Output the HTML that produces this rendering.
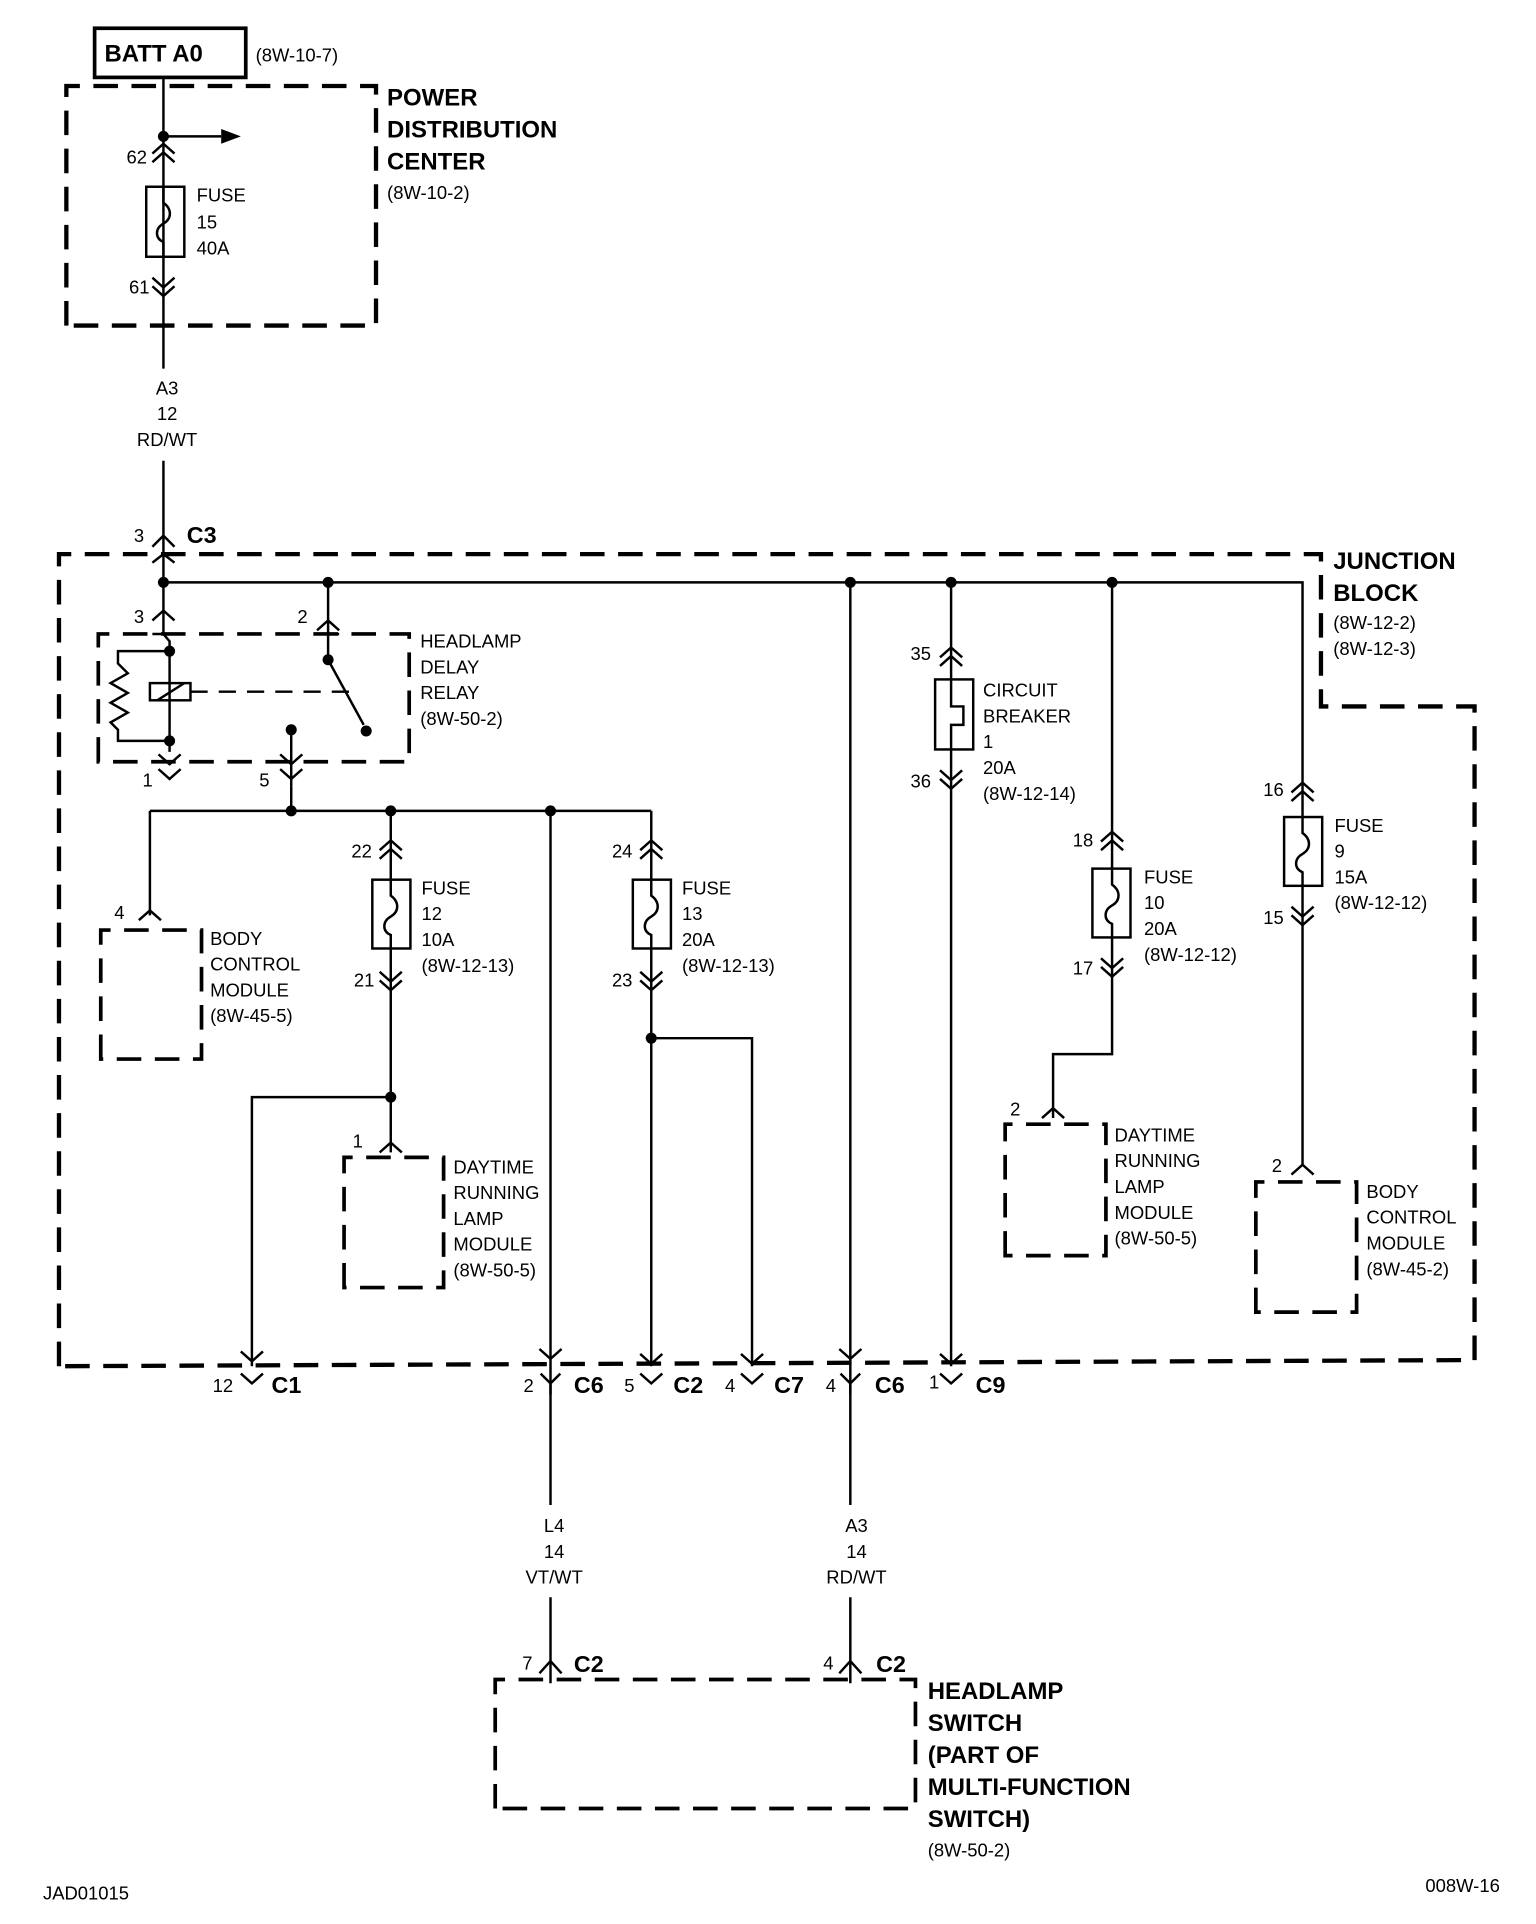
<!DOCTYPE html>
<html><head><meta charset="utf-8"><style>
html,body{margin:0;padding:0;background:#fff;}
svg{display:block;}
text{font-family:"Liberation Sans",sans-serif;font-size:15px;fill:#000;}
.b{font-weight:bold;font-size:19.5px;}
.c{font-weight:bold;font-size:19px;}
.m{text-anchor:middle;}
</style></head><body>
<svg width="1536" height="1924" viewBox="0 0 1250 1566" preserveAspectRatio="none" xmlns="http://www.w3.org/2000/svg">
<g fill="none" stroke="#000" stroke-width="2">
<rect x="77" y="23" width="123" height="40" stroke-width="3"/>
<g stroke-width="3.5" stroke-dasharray="20,11">
<path d="M54,265 V70 H306 V265 Z"/>
<path d="M48,1112 V451 H1075 V575 H1200 V1107 Z"/>
<path d="M80,620 V516 H333 V620 Z" stroke-width="3"/>
<path d="M82,862 V757 H164 V862 Z" stroke-width="3"/>
<path d="M280,1048 V942 H361 V1048 Z" stroke-width="3"/>
<path d="M818,1022 V915 H900 V1022 Z" stroke-width="3"/>
<path d="M1022,1068 V962 H1104 V1068 Z" stroke-width="3"/>
<path d="M403,1472 V1367 H745 V1472 Z" stroke-width="3"/>
</g>
<path d="M133,63 V300 M133,375 V516"/>
<path d="M133,111 H180"/>
<path d="M124,125 L133,117 L142,125 M124,132 L133,124 L142,132"/>
<rect x="119" y="152" width="31" height="57"/>
<path d="M133,152 V165 C140,170 140,178 133,182 C126,186 126,194 133,197 V209"/>
<path d="M124,226 L133,234 L142,226 M124,233 L133,241 L142,233"/>
<path d="M124,445 L133,436 L142,445 M124,458 L133,451 L142,458"/>
<path d="M133,474 H1060 V948"/>
<path d="M267,474 V516 M267,505 L258,513 M267,505 L276,513"/>
<path d="M124,505 L133,497 L142,505 M124,516 H142"/>
<path d="M259,516 H276"/>
<path d="M133,516 L138,522 V612"/>
<path d="M138,530 H96 V540 L104,548 L90,556 L104,564 L90,572 L104,580 L90,588 L96,594 V603 H138"/>
<rect x="122" y="556" width="33" height="14"/>
<path d="M128,570 L150,556"/>
<path d="M155,563 H285" stroke-dasharray="14,9"/>
<path d="M267,516 V537 L296,590"/>
<path d="M237,594 V640"/>
<path d="M129,626 L138,634 L147,626 M129,614 L138,622 L147,614"/>
<path d="M228,626 L237,634 L246,626 M228,614 L237,622 L246,614"/>
<path d="M237,640 V660 M122,660 H530 M122,660 V745"/>
<path d="M113,749 L122,741 L131,749"/>
<path d="M318,660 V938"/>
<path d="M309,692 L318,684 L327,692 M309,699 L318,691 L327,699"/>
<rect x="303" y="716" width="31" height="56" fill="#fff"/>
<path d="M318,716 V729 C325,734 325,742 318,746 C311,750 311,758 318,761 V772"/>
<path d="M309,791 L318,799 L327,791 M309,798 L318,806 L327,798"/>
<path d="M318,893 H205 V1112 M196,1100 L205,1108 L214,1100"/>
<path d="M309,938 L318,930 L327,938"/>
<path d="M448,660 V1225 M448,1300 V1370"/>
<path d="M439,1098 L448,1106 L457,1098"/>
<path d="M439,1362 L448,1352 L457,1362"/>
<path d="M530,660 V1112"/>
<path d="M521,692 L530,684 L539,692 M521,699 L530,691 L539,699"/>
<rect x="515" y="716" width="31" height="56" fill="#fff"/>
<path d="M530,716 V729 C537,734 537,742 530,746 C523,750 523,758 530,761 V772"/>
<path d="M521,791 L530,799 L539,791 M521,798 L530,806 L539,798"/>
<path d="M530,845 H612 V1112 M521,1102 L530,1110 L539,1102 M603,1102 L612,1110 L621,1102"/>
<path d="M692,474 V1225 M692,1300 V1370"/>
<path d="M683,1098 L692,1106 L701,1098"/>
<path d="M683,1362 L692,1352 L701,1362"/>
<path d="M774,474 V1112"/>
<path d="M765,535 L774,527 L783,535 M765,542 L774,534 L783,542"/>
<rect x="761" y="553" width="31" height="57" fill="#fff"/>
<path d="M774,553 V575 H784 V590 H774 V610"/>
<path d="M765,627 L774,635 L783,627 M765,634 L774,642 L783,634"/>
<path d="M765,1102 L774,1110 L783,1102"/>
<path d="M905,474 V858 H857 V910"/>
<path d="M896,685 L905,677 L914,685 M896,692 L905,684 L914,692"/>
<rect x="889" y="707" width="31" height="56" fill="#fff"/>
<path d="M905,707 V720 C912,725 912,733 905,737 C898,741 898,749 905,752 V763"/>
<path d="M896,780 L905,788 L914,780 M896,787 L905,795 L914,787"/>
<path d="M848,910 L857,902 L866,910"/>
<path d="M1051,645 L1060,637 L1069,645 M1051,652 L1060,644 L1069,652"/>
<rect x="1045" y="665" width="31" height="56" fill="#fff"/>
<path d="M1060,665 V678 C1067,683 1067,691 1060,695 C1053,699 1053,707 1060,710 V721"/>
<path d="M1051,738 L1060,746 L1069,738 M1051,745 L1060,753 L1069,745"/>
<path d="M1051,956 L1060,948 L1069,956"/>
<path d="M196,1118 L205,1126 L214,1118"/>
<path d="M440,1118 L448,1126 L456,1118 M448,1126 V1135"/>
<path d="M521,1118 L530,1126 L539,1118"/>
<path d="M603,1118 L612,1126 L621,1118"/>
<path d="M684,1118 L692,1126 L700,1118 M692,1126 V1135"/>
<path d="M765,1118 L774,1126 L783,1118"/>
</g>
<g fill="#000">
<circle cx="133" cy="111" r="4.5"/>
<path d="M180,105 L196,111 L180,117 Z"/>
<circle cx="133" cy="474" r="4.5"/><circle cx="267" cy="474" r="4.5"/>
<circle cx="692" cy="474" r="4.5"/><circle cx="774" cy="474" r="4.5"/><circle cx="905" cy="474" r="4.5"/>
<circle cx="138" cy="530" r="4.5"/><circle cx="138" cy="603" r="4.5"/>
<circle cx="267" cy="537" r="4.5"/><circle cx="298" cy="595" r="4.5"/><circle cx="237" cy="594" r="4.5"/>
<circle cx="237" cy="660" r="4.5"/><circle cx="318" cy="660" r="4.5"/><circle cx="448" cy="660" r="4.5"/>
<circle cx="318" cy="893" r="4.5"/><circle cx="530" cy="845" r="4.5"/>
</g>
<text class="b" x="85" y="50">BATT A0</text>
<text x="208" y="50">(8W-10-7)</text>
<text class="b" x="315" y="86">POWER</text>
<text class="b" x="315" y="112">DISTRIBUTION</text>
<text class="b" x="315" y="138">CENTER</text>
<text x="315" y="162">(8W-10-2)</text>
<text x="103" y="133">62</text>
<text x="160" y="164">FUSE</text><text x="160" y="186">15</text><text x="160" y="207">40A</text>
<text x="105" y="239">61</text>
<text class="m" x="136" y="321">A3</text><text class="m" x="136" y="342">12</text><text class="m" x="136" y="363">RD/WT</text>
<text x="109" y="441">3</text><text class="c" x="152" y="442">C3</text>
<text class="b" x="1085" y="463">JUNCTION</text>
<text class="b" x="1085" y="489">BLOCK</text>
<text x="1085" y="512">(8W-12-2)</text><text x="1085" y="533">(8W-12-3)</text>
<text x="109" y="507">3</text><text x="242" y="507">2</text>
<text x="342" y="527">HEADLAMP</text><text x="342" y="548">DELAY</text><text x="342" y="569">RELAY</text><text x="342" y="590">(8W-50-2)</text>
<text x="116" y="640">1</text><text x="211" y="640">5</text>
<text x="93" y="748">4</text>
<text x="171" y="769">BODY</text><text x="171" y="790">CONTROL</text><text x="171" y="811">MODULE</text><text x="171" y="832">(8W-45-5)</text>
<text x="286" y="698">22</text><text x="288" y="803">21</text>
<text x="343" y="728">FUSE</text><text x="343" y="749">12</text><text x="343" y="770">10A</text><text x="343" y="791">(8W-12-13)</text>
<text x="498" y="698">24</text><text x="498" y="803">23</text>
<text x="555" y="728">FUSE</text><text x="555" y="749">13</text><text x="555" y="770">20A</text><text x="555" y="791">(8W-12-13)</text>
<text x="287" y="934">1</text>
<text x="369" y="955">DAYTIME</text><text x="369" y="976">RUNNING</text><text x="369" y="997">LAMP</text><text x="369" y="1018">MODULE</text><text x="369" y="1039">(8W-50-5)</text>
<text x="741" y="537">35</text><text x="741" y="641">36</text>
<text x="800" y="567">CIRCUIT</text><text x="800" y="588">BREAKER</text><text x="800" y="609">1</text><text x="800" y="630">20A</text><text x="800" y="651">(8W-12-14)</text>
<text x="873" y="689">18</text><text x="873" y="793">17</text>
<text x="931" y="719">FUSE</text><text x="931" y="740">10</text><text x="931" y="761">20A</text><text x="931" y="782">(8W-12-12)</text>
<text x="822" y="908">2</text>
<text x="907" y="929">DAYTIME</text><text x="907" y="950">RUNNING</text><text x="907" y="971">LAMP</text><text x="907" y="992">MODULE</text><text x="907" y="1013">(8W-50-5)</text>
<text x="1028" y="648">16</text><text x="1028" y="752">15</text>
<text x="1086" y="677">FUSE</text><text x="1086" y="698">9</text><text x="1086" y="719">15A</text><text x="1086" y="740">(8W-12-12)</text>
<text x="1035" y="954">2</text>
<text x="1112" y="975">BODY</text><text x="1112" y="996">CONTROL</text><text x="1112" y="1017">MODULE</text><text x="1112" y="1038">(8W-45-2)</text>
<text x="173" y="1133">12</text><text class="c" x="221" y="1134">C1</text>
<text x="426" y="1133">2</text><text class="c" x="467" y="1134">C6</text>
<text x="508" y="1133">5</text><text class="c" x="548" y="1134">C2</text>
<text x="590" y="1133">4</text><text class="c" x="630" y="1134">C7</text>
<text x="672" y="1133">4</text><text class="c" x="712" y="1134">C6</text>
<text x="756" y="1130">1</text><text class="c" x="794" y="1134">C9</text>
<text class="m" x="451" y="1247">L4</text><text class="m" x="451" y="1268">14</text><text class="m" x="451" y="1289">VT/WT</text>
<text class="m" x="697" y="1247">A3</text><text class="m" x="697" y="1268">14</text><text class="m" x="697" y="1289">RD/WT</text>
<text x="425" y="1359">7</text><text class="c" x="467" y="1361">C2</text>
<text x="670" y="1359">4</text><text class="c" x="713" y="1361">C2</text>
<text class="b" x="755" y="1383">HEADLAMP</text>
<text class="b" x="755" y="1409">SWITCH</text>
<text class="b" x="755" y="1435">(PART OF</text>
<text class="b" x="755" y="1461">MULTI-FUNCTION</text>
<text class="b" x="755" y="1487">SWITCH)</text>
<text x="755" y="1511">(8W-50-2)</text>
<text x="35" y="1546">JAD01015</text>
<text x="1160" y="1540">008W-16</text>
</svg>
</body></html>
